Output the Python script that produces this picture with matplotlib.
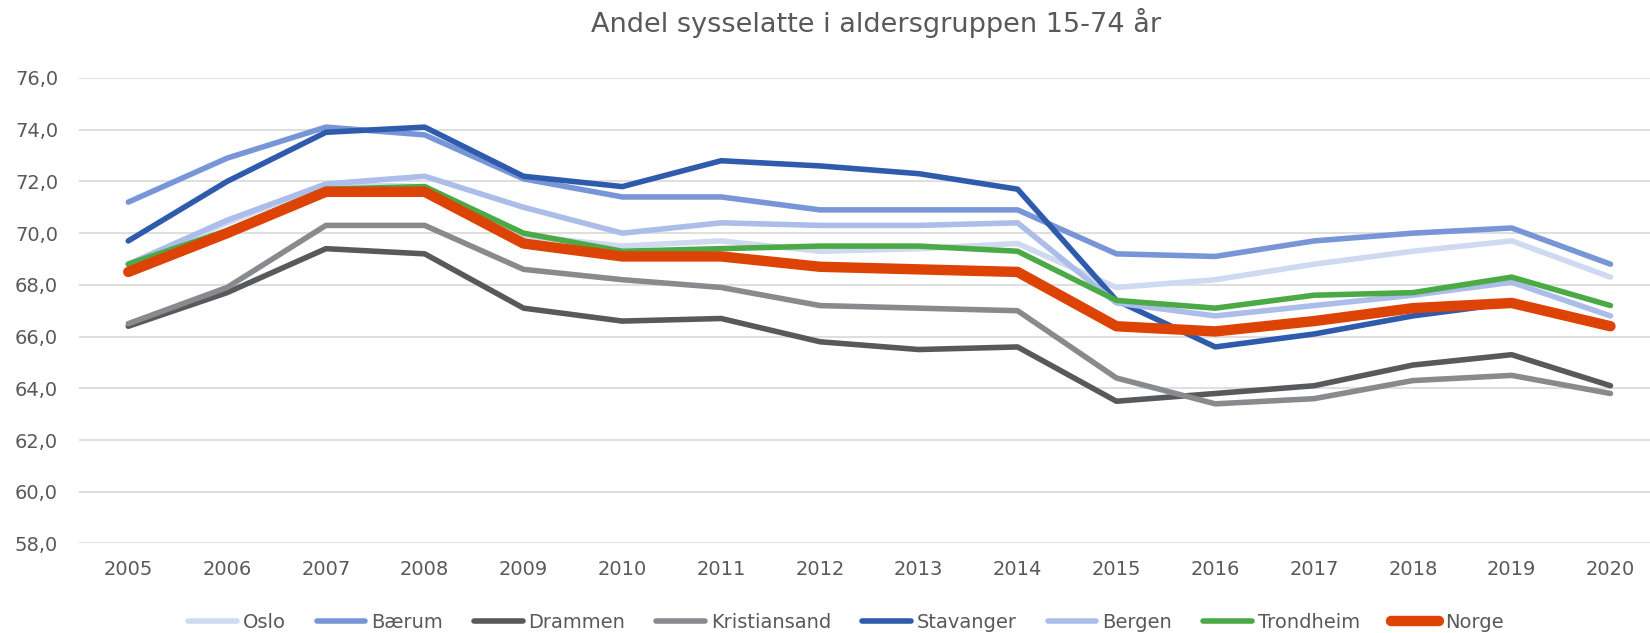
import matplotlib
matplotlib.use("Agg")
import matplotlib.pyplot as plt

years = [str(y) for y in range(2005, 2021)]
oslo = [68.8, 70.4, 71.9, 71.8, 69.9, 69.5, 69.7, 69.3, 69.4, 69.6, 67.9, 68.2, 68.8, 69.3, 69.7, 68.3]
baerum = [71.2, 72.9, 74.1, 73.8, 72.1, 71.4, 71.4, 70.9, 70.9, 70.9, 69.2, 69.1, 69.7, 70.0, 70.2, 68.8]
drammen = [66.4, 67.7, 69.4, 69.2, 67.1, 66.6, 66.7, 65.8, 65.5, 65.6, 63.5, 63.8, 64.1, 64.9, 65.3, 64.1]
kristiansand = [66.5, 67.9, 70.3, 70.3, 68.6, 68.2, 67.9, 67.2, 67.1, 67.0, 64.4, 63.4, 63.6, 64.3, 64.5, 63.8]
stavanger = [69.7, 72.0, 73.9, 74.1, 72.2, 71.8, 72.8, 72.6, 72.3, 71.7, 67.4, 65.6, 66.1, 66.8, 67.3, 66.4]
bergen = [68.8, 70.5, 71.9, 72.2, 71.0, 70.0, 70.4, 70.3, 70.3, 70.4, 67.3, 66.8, 67.2, 67.6, 68.1, 66.8]
trondheim = [68.8, 70.1, 71.7, 71.8, 70.0, 69.3, 69.4, 69.5, 69.5, 69.3, 67.4, 67.1, 67.6, 67.7, 68.3, 67.2]
norge = [68.5, 70.0, 71.6, 71.6, 69.6, 69.1, 69.1, 68.7, 68.6, 68.5, 66.4, 66.2, 66.6, 67.1, 67.3, 66.4]

series_names = ["Oslo", "Bærum", "Drammen", "Kristiansand", "Stavanger", "Bergen", "Trondheim", "Norge"]
series_values = [oslo, baerum, drammen, kristiansand, stavanger, bergen, trondheim, norge]
colors = ["#CFDAF1", "#7896D7", "#58595B", "#898A8D", "#2F5BAD", "#ABBDE8", "#4BAA45", "#DE4306"]
widths = [4.0, 4.0, 4.0, 4.0, 4.0, 4.0, 4.0, 7.5]

y_ticks = [58, 60, 62, 64, 66, 68, 70, 72, 74, 76]

plt.rcParams["font.family"] = ["DejaVu Sans"]
text_color = "#595959"

fig = plt.figure(figsize=(16.5, 6.33), dpi=100)
ax = fig.add_axes([0.0478, 0.1414, 0.9582, 0.7354])

x = list(range(len(years)))
for name, vals, c, lw in zip(series_names, series_values, colors, widths):
    ax.plot(x, vals, color=c, lw=lw, label=name,
            solid_capstyle="round", solid_joinstyle="round")

ax.set_xlim(-0.5, len(years) - 0.5)
ax.set_ylim(58, 76)
ax.set_yticks(y_ticks)
ax.set_yticklabels([f"{v:.1f}".replace(".", ",") for v in y_ticks])
ax.set_xticks(x)
ax.set_xticklabels(years)
ax.grid(axis="y", color="#D9D9D9", lw=1.2)
ax.set_axisbelow(True)
for s in ax.spines.values():
    s.set_visible(False)
ax.tick_params(axis="both", length=0, labelsize=14, labelcolor=text_color)
ax.tick_params(axis="y", pad=15)
ax.tick_params(axis="x", pad=12)

fig.text(0.531, 0.963, "Andel sysselatte i aldersgruppen 15-74 år",
         ha="center", va="center", fontsize=19.5, color=text_color)

fig.legend(loc="center", bbox_to_anchor=(0.5127, 0.0163), ncol=8, frameon=False,
           fontsize=14, handlelength=2.5, handletextpad=0.3, columnspacing=1.6,
           borderpad=0, labelcolor=text_color)

fig.savefig("out.png", dpi=100)
